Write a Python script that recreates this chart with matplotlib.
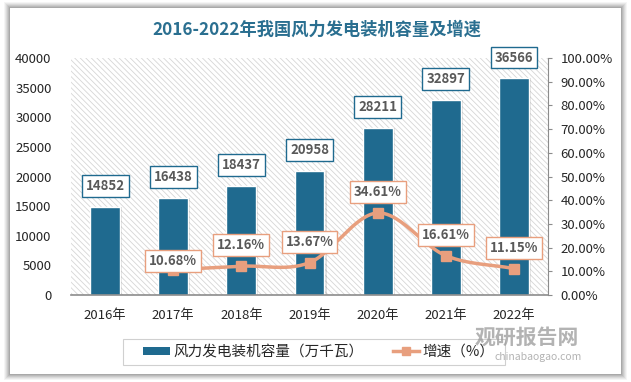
import numpy as np
import matplotlib
matplotlib.use("Agg")
import matplotlib.pyplot as plt
from matplotlib.patches import Rectangle
from matplotlib.lines import Line2D
from matplotlib.patches import Patch

plt.rcParams['font.family'] = ['Noto Sans CJK SC', 'DejaVu Sans']
plt.rcParams['hatch.linewidth'] = 0.6
plt.rcParams['hatch.color'] = '#d6d6d6'

years = ['2016年', '2017年', '2018年', '2019年', '2020年', '2021年', '2022年']
capacity = [14852, 16438, 18437, 20958, 28211, 32897, 36566]
growth = [None, 10.68, 12.16, 13.67, 34.61, 16.61, 11.15]
left_ticks = [0, 5000, 10000, 15000, 20000, 25000, 30000, 35000, 40000]
right_ticks = [0, 10, 20, 30, 40, 50, 60, 70, 80, 90, 100]

title = '2016-2022年我国风力发电装机容量及增速'
bar_name = '风力发电装机容量（万千瓦）'
line_name = '增速（%）'

BAR = '#1F6A8F'
LINE = '#E89F7E'
TXT = '#595959'

W, H = 631, 382
fig = plt.figure(figsize=(W / 100, H / 100), dpi=100)
fig.patch.set_facecolor('white')

# panel shadow + white panel
for i, a in enumerate([0.04, 0.05, 0.06, 0.07, 0.08, 0.09]):
    d = 6 - i
    fig.patches.append(Rectangle(((10 - d) / W, (H - 374 - d) / H), (611 + 2 * d) / W, (366 + 2 * d) / H,
                                 transform=fig.transFigure, facecolor='black', alpha=a,
                                 edgecolor='none', zorder=0))
fig.patches.append(Rectangle((10 / W, (H - 374) / H), 611 / W, 366 / H, transform=fig.transFigure,
                             facecolor='white', edgecolor='none', zorder=1))

ax = fig.add_axes([71 / W, (H - 295) / H, (548 - 71) / W, (295 - 58) / H])
ax.set_zorder(2)
ax.patch.set_alpha(0)
x = np.arange(len(years))

# hatched plot background
ax.add_patch(Rectangle((0, 0), 1, 1, transform=ax.transAxes, facecolor='white',
                       edgecolor='#d6d6d6', hatch='\\\\\\\\\\\\', linewidth=0, zorder=0))

# bar shadows
ax.bar(x + 0.03, capacity, width=0.44, color='#000000', alpha=0.12, zorder=1, linewidth=0)
ax.bar(x, capacity, width=0.44, color=BAR, edgecolor='white', linewidth=1.0, zorder=2)
ax.set_xlim(-0.5, len(years) - 0.5)
ax.set_ylim(0, 40000)
ax.set_yticks(left_ticks)
ax.set_yticklabels([str(v) for v in left_ticks], fontsize=9.5, color='#262626')
ax.set_xticks(x)
ax.set_xticklabels(years, fontsize=9.5, color='#262626')
ax.tick_params(axis='y', length=0, pad=14)
ax.tick_params(axis='x', length=0, pad=10)
for s in ['top', 'right', 'left']:
    ax.spines[s].set_visible(False)
ax.spines['bottom'].set_color('#8c8c8c')
ax.spines['bottom'].set_linewidth(1.2)

for xi, v in zip(x, capacity):
    ax.annotate(str(v), (xi, v), xytext=(0, 15), textcoords='offset points', ha='center', va='center',
                fontsize=9.5, fontweight='bold', color=TXT, zorder=6,
                bbox=dict(boxstyle='square,pad=0.3', fc='white', ec=BAR, lw=1.0))

ax2 = ax.twinx()
ax2.set_zorder(3)
ax2.patch.set_alpha(0)
ax2.set_ylim(0, 100)
ax2.set_yticks(right_ticks)
ax2.set_yticklabels([f'{v:.2f}%' for v in right_ticks], fontsize=9.5, color='#262626')
ax2.tick_params(axis='y', length=3, color='#8c8c8c', pad=6)
for s in ['top', 'left', 'bottom']:
    ax2.spines[s].set_visible(False)
ax2.spines['right'].set_color('#8c8c8c')

# smooth line (Catmull-Rom through data points)
gx = np.array([xi for xi, g in zip(x, growth) if g is not None], dtype=float)
gy = np.array([g for g in growth if g is not None], dtype=float)
px = np.concatenate([[2 * gx[0] - gx[1]], gx, [2 * gx[-1] - gx[-2]]])
py = np.concatenate([[2 * gy[0] - gy[1]], gy, [2 * gy[-1] - gy[-2]]])
sx, sy = [], []
t = np.linspace(0, 1, 30)
for i in range(1, len(px) - 2):
    for P, out in ((px, sx), (py, sy)):
        p0, p1, p2, p3 = P[i - 1], P[i], P[i + 1], P[i + 2]
        out.extend(0.5 * ((2 * p1) + (-p0 + p2) * t + (2 * p0 - 5 * p1 + 4 * p2 - p3) * t ** 2
                          + (-p0 + 3 * p1 - 3 * p2 + p3) * t ** 3))
ax2.plot(sx, sy, color=LINE, lw=2.5, zorder=4, solid_capstyle='round')
ax2.plot(gx, gy, ls='none', marker='s', ms=7, color=LINE, zorder=5)

offsets = {1: 6, 2: 15, 3: 15, 4: 15, 5: 15, 6: 15}
for xi, g in zip(x, growth):
    if g is None:
        continue
    ax2.annotate(f'{g:.2f}%', (xi, g), xytext=(0, offsets[xi]), textcoords='offset points',
                 ha='center', va='center', fontsize=9.5, fontweight='bold', color=TXT, zorder=7,
                 bbox=dict(boxstyle='square,pad=0.3', fc='white', ec=LINE, lw=1.0))

fig.text(317 / W, (H - 30) / H, title, ha='center', va='center', fontsize=12.4, fontweight='bold',
         color='#2A6F90', zorder=5)

# legend frame drawn separately
fig.patches.append(Rectangle((123 / W, (H - 365) / H), (505 - 123) / W, 26 / H, transform=fig.transFigure,
                             facecolor='white', edgecolor='#d0d0d0', linewidth=0.8, zorder=3))
handles = [Patch(facecolor=BAR, edgecolor='none'),
           Line2D([0], [0], color=LINE, lw=2.5, marker='s', ms=6)]
leg = fig.legend(handles, [bar_name, line_name], loc='center', bbox_to_anchor=(319 / W, (H - 352) / H),
                 ncol=2, frameon=False, fontsize=10.5, handlelength=1.8, handleheight=0.45,
                 handletextpad=0.25, columnspacing=2.0, borderpad=0.3)
leg.set_zorder(4)
for tx in leg.get_texts():
    tx.set_color('#262626')

# watermark
fig.text(527 / W, (H - 337) / H, '观研报告网', ha='center', va='center', fontsize=15,
         fontweight='bold', color='#9a9a9a', alpha=0.75, zorder=6)
fig.text(538 / W, (H - 357) / H, 'chinabaogao.com', ha='center', va='center', fontsize=7.5,
         color='#9a9a9a', alpha=0.75, zorder=6)

fig.savefig('out.png', dpi=100)
